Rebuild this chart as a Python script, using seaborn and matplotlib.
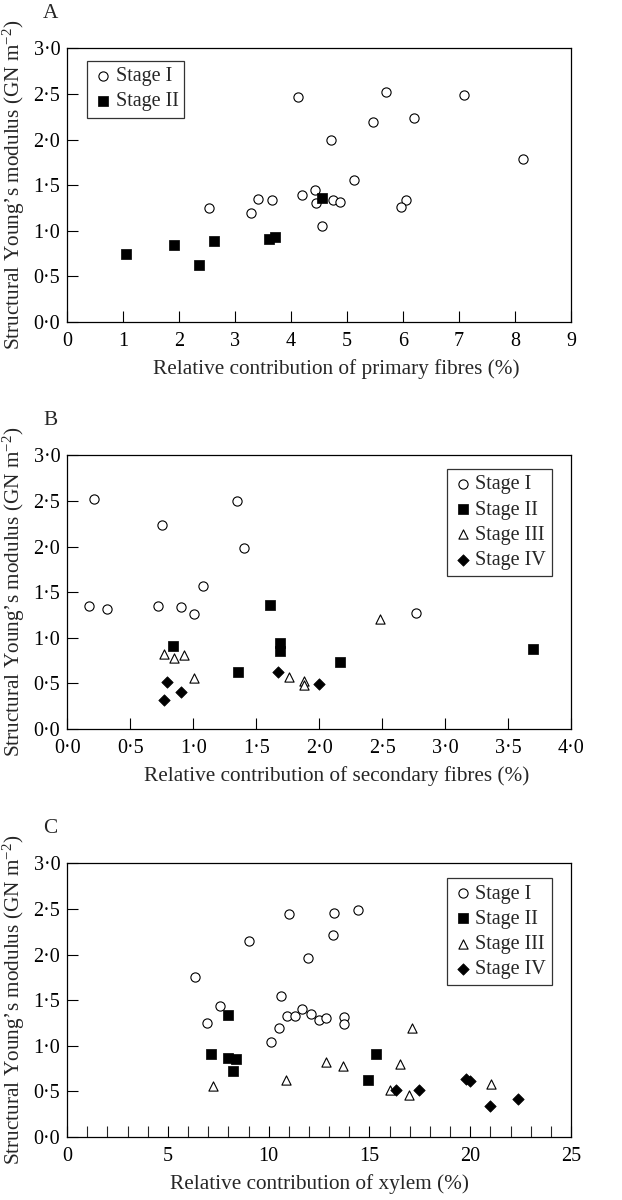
import matplotlib
matplotlib.use("Agg")
import matplotlib.pyplot as plt
import numpy as np
import seaborn as sns
from matplotlib.ticker import FuncFormatter, MultipleLocator

# ---- Panel A: primary fibres ----
a_s1_x = [4.13, 5.69, 7.09, 5.46, 6.20, 4.71, 8.14, 5.13, 4.43, 4.19,
          3.41, 3.66, 2.54, 3.28, 4.44, 4.75, 4.87, 6.05, 5.97, 4.55]
a_s1_y = [2.47, 2.52, 2.49, 2.19, 2.24, 1.99, 1.79, 1.56, 1.45, 1.39,
          1.35, 1.34, 1.25, 1.20, 1.30, 1.34, 1.31, 1.34, 1.26, 1.05]
a_s2_x = [1.05, 1.91, 2.35, 2.63, 3.60, 3.71, 4.55]
a_s2_y = [0.74, 0.84, 0.63, 0.89, 0.91, 0.93, 1.36]

# ---- Panel B: secondary fibres ----
b_s1_x = [0.21, 1.35, 0.75, 1.40, 1.08, 0.17, 0.32, 0.72, 0.90, 1.01, 2.77]
b_s1_y = [2.52, 2.50, 2.24, 1.99, 1.57, 1.35, 1.32, 1.35, 1.34, 1.26, 1.27]
b_s2_x = [0.84, 1.61, 1.69, 1.69, 1.36, 2.17, 3.70]
b_s2_y = [0.91, 1.36, 0.94, 0.85, 0.62, 0.74, 0.88]
b_s3_x = [0.77, 0.85, 0.93, 1.01, 1.76, 1.88, 1.88, 2.48]
b_s3_y = [0.82, 0.78, 0.81, 0.56, 0.57, 0.53, 0.48, 1.21]
b_s4_x = [0.79, 0.90, 0.77, 1.67, 2.00]
b_s4_y = [0.52, 0.41, 0.32, 0.62, 0.49]

# ---- Panel C: xylem ----
c_s1_x = [6.34, 6.93, 7.59, 9.00, 11.00, 13.25, 14.41, 13.17, 11.95, 10.59,
          10.13, 10.49, 10.90, 11.32, 11.65, 12.11, 12.49, 12.86, 13.72, 13.72]
c_s1_y = [1.75, 1.25, 1.44, 2.15, 2.44, 2.46, 2.49, 2.21, 1.96, 1.55,
          1.04, 1.19, 1.33, 1.33, 1.40, 1.35, 1.28, 1.31, 1.32, 1.24]
c_s2_x = [7.96, 7.16, 7.99, 8.37, 8.22, 14.92, 15.32]
c_s2_y = [1.34, 0.91, 0.87, 0.86, 0.72, 0.63, 0.91]
c_s3_x = [7.26, 10.84, 12.84, 13.67, 16.03, 16.53, 16.98, 17.09, 21.01]
c_s3_y = [0.56, 0.62, 0.82, 0.78, 0.52, 0.80, 0.46, 1.19, 0.58]
c_s4_x = [16.33, 17.46, 19.77, 20.00, 20.98, 22.35]
c_s4_y = [0.52, 0.51, 0.64, 0.61, 0.34, 0.42]

stage_labels = ["Stage I", "Stage II", "Stage III", "Stage IV"]
stage_styles = [
    dict(marker="o", facecolor="white", edgecolor="black", s=44, linewidth=0.8),
    dict(marker="s", color="black", edgecolor="black", s=44, linewidth=0.5),
    dict(marker="^", facecolor="white", edgecolor="black", s=44, linewidth=0.8),
    dict(marker="D", color="black", edgecolor="black", s=34, linewidth=0.5),
]

sns.set_style("ticks")
plt.rcParams["font.family"] = ["Liberation Serif", "DejaVu Serif"]
plt.rcParams["mathtext.fontset"] = "custom"
plt.rcParams["mathtext.rm"] = "Liberation Serif"
plt.rcParams["mathtext.it"] = "Liberation Serif:italic"
plt.rcParams["font.size"] = 14

dot_fmt = FuncFormatter(lambda v, p: f"{v:.1f}".replace(".", "\u00b7"))
ylabel = "Structural Young\u2019s modulus (GN m$^{-2}$)"

fig = plt.figure(figsize=(6.22, 12), dpi=100)
left, width, height = 0.108, 0.810, 0.228
bottoms = [0.7317, 0.3925, 0.0525]
axes = [fig.add_axes([left, b, width, height]) for b in bottoms]

panels = [
    ([(a_s1_x, a_s1_y), (a_s2_x, a_s2_y)], "Relative contribution of primary fibres (%)",
     (0, 9), "A", ("upper left", (0.040, 0.953)), 0.534),
    ([(b_s1_x, b_s1_y), (b_s2_x, b_s2_y), (b_s3_x, b_s3_y), (b_s4_x, b_s4_y)],
     "Relative contribution of secondary fibres (%)", (0, 4), "B", ("upper right", (0.962, 0.949)), 0.534),
    ([(c_s1_x, c_s1_y), (c_s2_x, c_s2_y), (c_s3_x, c_s3_y), (c_s4_x, c_s4_y)],
     "Relative contribution of xylem (%)", (0, 25), "C", ("upper right", (0.962, 0.945)), 0.5),
]

for ax, (series, xlabel, xlim, letter, (loc, anchor), xlab_pos) in zip(axes, panels):
    for (xs, ys), lab, st in zip(series, stage_labels, stage_styles):
        sns.scatterplot(x=xs, y=ys, ax=ax, label=lab, zorder=3, **st)
    ax.set_xlim(*xlim)
    ax.set_ylim(0, 3)
    ax.yaxis.set_major_locator(MultipleLocator(0.5))
    ax.yaxis.set_major_formatter(dot_fmt)
    ax.set_xlabel(xlabel, fontsize=15.3, labelpad=6)
    ax.xaxis.label.set_x(xlab_pos)
    ax.set_ylabel(ylabel, fontsize=15.3, labelpad=5)
    ax.tick_params(direction="in", length=8, width=0.8, labelsize=14.5, pad=5, colors="black")
    ax.tick_params(axis="x", pad=7)
    for sp in ax.spines.values():
        sp.set_linewidth(0.9)
        sp.set_color("black")
    leg = ax.legend(loc=loc, bbox_to_anchor=anchor, frameon=True, fancybox=False, edgecolor="black",
                    fontsize=14.5, handletextpad=0.1, borderpad=0.3, labelspacing=0.3,
                    borderaxespad=0.0, handlelength=1.0)
    leg.get_frame().set_linewidth(0.9)
    ax.text(-0.034, 1.128, letter, transform=ax.transAxes, fontsize=15.3, ha="center", va="center")

axes[0].xaxis.set_major_locator(MultipleLocator(1))
axes[1].xaxis.set_major_locator(MultipleLocator(0.5))
axes[1].xaxis.set_major_formatter(dot_fmt)
axes[2].xaxis.set_major_locator(MultipleLocator(5))
axes[2].xaxis.set_minor_locator(MultipleLocator(1))
axes[2].tick_params(axis="x", which="minor", direction="in", length=8, width=0.8)

fig.savefig("out.png", dpi=100)
